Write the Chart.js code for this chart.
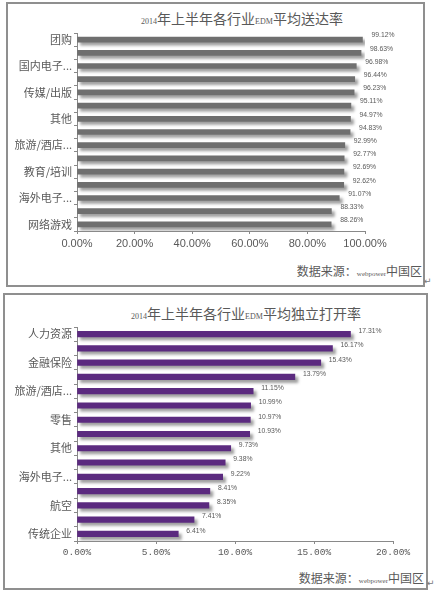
<!DOCTYPE html>
<html>
<head>
<meta charset="utf-8">
<script src="https://cdn.jsdelivr.net/npm/chart.js@4.4.0/dist/chart.umd.min.js"></script>
<style>
  html, body { margin: 0; padding: 0; background: #ffffff; }
  body { width: 434px; height: 594px; position: relative; overflow: hidden;
         font-family: "Noto Sans CJK SC", sans-serif; color: #595959; }
  .box { position: absolute; border: 2px solid #8f8f8f; box-sizing: border-box; }
  canvas { position: absolute; left: 0; }
  .title { position: absolute; white-space: nowrap; transform: translate(-50%, -50%);
           font-size: 14px; color: #595959; }
  .title .lat { font-family: "Liberation Serif", serif; font-size: 8px; }
  .src { position: absolute; white-space: nowrap; font-size: 12px; color: #595959;
         transform: translateY(-50%); text-align: right; }
  .src .lat { font-family: "Liberation Serif", serif; font-size: 7px; }
  .mark { position: absolute; font-size: 9px; color: #777; font-family: "DejaVu Sans", sans-serif; }
</style>
</head>
<body>
<div class="box" style="left:6px; top:2px; width:419px; height:285px;"></div>
<div class="box" style="left:3px; top:293px; width:425px; height:297px;"></div>

<div class="title" style="left:242px; top:18px;"><span class="lat">2014</span>年上半年各行业<span class="lat">EDM</span>平均送达率</div>
<div class="title" style="left:246px; top:313px;"><span class="lat">2014</span>年上半年各行业<span class="lat">EDM</span>平均独立打开率</div>

<div class="src" style="right:12px; top:270px;">数据来源：<span class="lat">webpower</span>中国区</div>
<div class="src" style="right:10px; top:577px;">数据来源：<span class="lat">webpower</span>中国区</div>
<div class="mark" style="left:424px; top:276px;">↵</div>
<div class="mark" style="left:427px; top:578px;">↵</div>

<canvas id="c1" width="434" height="290" style="top:0; width:434px; height:290px;"></canvas>
<canvas id="c2" width="434" height="304" style="top:290px; width:434px; height:304px;"></canvas>

<script>
// ---- Data ----
const categories1 = ['团购', '', '国内电子...', '', '传媒/出版', '', '其他', '', '旅游/酒店...', '', '教育/培训', '', '海外电子...', '', '网络游戏'];
const values1 = [99.12, 98.63, 96.98, 96.44, 96.23, 95.11, 94.97, 94.83, 92.99, 92.77, 92.69, 92.62, 91.07, 88.33, 88.26];
const xTicks1 = [0, 20, 40, 60, 80, 100];

const categories2 = ['人力资源', '', '金融保险', '', '旅游/酒店...', '', '零售', '', '其他', '', '海外电子...', '', '航空', '', '传统企业'];
const values2 = [17.31, 16.17, 15.43, 13.79, 11.15, 10.99, 10.97, 10.93, 9.73, 9.38, 9.22, 8.41, 8.35, 7.41, 6.41];
const xTicks2 = [0, 5, 10, 15, 20];

const TEXT = '#595959';
const AXIS = '#898989';

const shadowPlugin = {
  id: 'barShadow',
  beforeDatasetsDraw(chart) {
    const ctx = chart.ctx;
    ctx.save();
    ctx.shadowColor = 'rgba(0,0,0,0.38)';
    ctx.shadowOffsetX = 3;
    ctx.shadowOffsetY = 3;
    ctx.shadowBlur = 3;
  },
  afterDatasetsDraw(chart) {
    chart.ctx.restore();
  }
};

const valueLabelPlugin = {
  id: 'valueLabels',
  afterDraw(chart, args, opts) {
    const ctx = chart.ctx;
    const meta = chart.getDatasetMeta(0);
    const data = chart.data.datasets[0].data;
    ctx.save();
    ctx.font = opts.font;
    ctx.fillStyle = TEXT;
    ctx.textAlign = 'left';
    ctx.textBaseline = 'middle';
    meta.data.forEach((bar, i) => {
      ctx.fillText(data[i].toFixed(2) + '%', bar.x + opts.dx, bar.y + opts.dy);
    });
    ctx.restore();
  }
};

function makeChart(id, cats, vals, ticks, color, thickness, pad, xFont, dx, dy) {
  return new Chart(document.getElementById(id), {
    type: 'bar',
    data: {
      labels: cats,
      datasets: [{ data: vals, backgroundColor: color, borderWidth: 0, barThickness: thickness }]
    },
    options: {
      indexAxis: 'y',
      responsive: false,
      animation: false,
      devicePixelRatio: 1,
      layout: { padding: pad },
      plugins: {
        legend: { display: false },
        tooltip: { enabled: false },
        valueLabels: { font: '6.8px "Liberation Sans", sans-serif', dx: dx, dy: dy }
      },
      scales: {
        x: {
          min: ticks[0],
          max: ticks[ticks.length - 1],
          afterBuildTicks(scale) { scale.ticks = ticks.map(v => ({ value: v })); },
          afterFit(scale) { scale.height = 25; },
          grid: { drawOnChartArea: false, drawTicks: true, tickLength: 3, color: AXIS },
          border: { display: true, color: AXIS, width: 1 },
          ticks: {
            color: TEXT, font: xFont, padding: 3,
            callback: v => Number(v).toFixed(2) + '%'
          }
        },
        y: {
          afterFit(scale) { scale.width = 70; },
          grid: { drawOnChartArea: false, drawTicks: true, tickLength: 3, color: AXIS, offset: true },
          border: { display: true, color: AXIS, width: 1 },
          ticks: {
            autoSkip: false, color: TEXT, padding: 2,
            font: { family: '"Noto Sans CJK SC", sans-serif', size: 11 },
            callback: (v, i) => cats[i]
          }
        }
      }
    },
    plugins: [shadowPlugin, valueLabelPlugin]
  });
}

makeChart('c1', categories1, values1, xTicks1, '#6f6f6f', 5,
  { left: 7, right: 69, top: 33, bottom: 34 },
  { family: '"Liberation Sans", Arial, sans-serif', size: 11 }, 9, -4);

makeChart('c2', categories2, values2, xTicks2, '#5b2a7f', 5.5,
  { left: 7, right: 41, top: 37, bottom: 28 },
  { family: '"Liberation Mono", monospace', size: 9.5 }, 8, -3);
</script>
</body>
</html>
